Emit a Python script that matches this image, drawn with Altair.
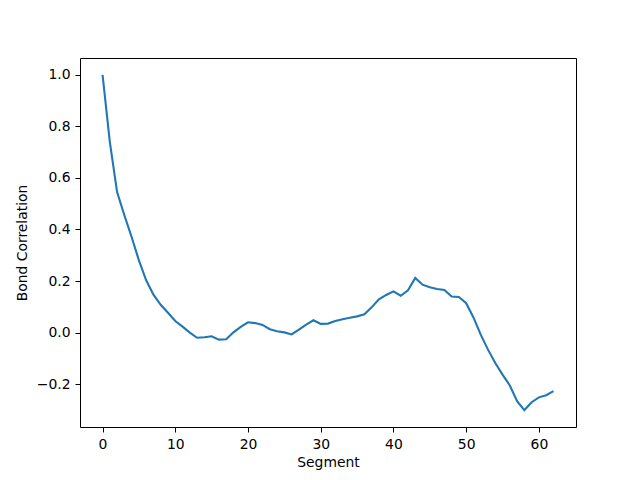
import altair as alt
import pandas as pd

segments = list(range(63))
corr = [1.0, 0.74, 0.545, 0.455, 0.371, 0.28, 0.203, 0.147, 0.108, 0.077,
        0.045, 0.023, 0.0, -0.02, -0.018, -0.014, -0.027, -0.026, 0.001, 0.022,
        0.04, 0.037, 0.03, 0.013, 0.005, 0.001, -0.007, 0.012, 0.031, 0.048,
        0.034, 0.035, 0.045, 0.052, 0.058, 0.063, 0.071, 0.098, 0.129, 0.146,
        0.16, 0.143, 0.164, 0.212, 0.186, 0.176, 0.169, 0.165, 0.14, 0.138,
        0.114, 0.059, -0.008, -0.066, -0.118, -0.163, -0.205, -0.266, -0.301, -0.27,
        -0.251, -0.243, -0.227]
x_ticks = [0, 10, 20, 30, 40, 50, 60]
y_ticks = [-0.2, 0.0, 0.2, 0.4, 0.6, 0.8, 1.0]

df = pd.DataFrame({"Segment": segments, "Bond Correlation": corr})

font = "DejaVu Sans"
fs = 13.9
axis_common = dict(
    grid=False, domain=False, tickColor="black", tickSize=5, tickWidth=1,
    labelFont=font, labelFontSize=fs, labelColor="black",
    titleFont=font, titleFontSize=fs, titleFontWeight="normal", titleColor="black",
)

chart = alt.Chart(df).mark_line(color="#1f77b4", strokeWidth=2.1).encode(
    x=alt.X("Segment:Q",
            scale=alt.Scale(domain=[-3.1, 65.1], nice=False, zero=False),
            axis=alt.Axis(values=x_ticks, format="d", labelPadding=5, titlePadding=5, **axis_common)),
    y=alt.Y("Bond Correlation:Q",
            scale=alt.Scale(domain=[-0.366, 1.065], nice=False, zero=False),
            axis=alt.Axis(values=y_ticks, format=".1f", labelPadding=5, titlePadding=7, **axis_common)),
).properties(
    width=496, height=369,
    autosize=alt.AutoSizeParams(type="none"),
    padding={"left": 72, "top": 50, "right": 56, "bottom": 45},
).configure_view(stroke="black", strokeWidth=1)

chart.save("out.html", embed_options={"renderer": "svg", "actions": False})
